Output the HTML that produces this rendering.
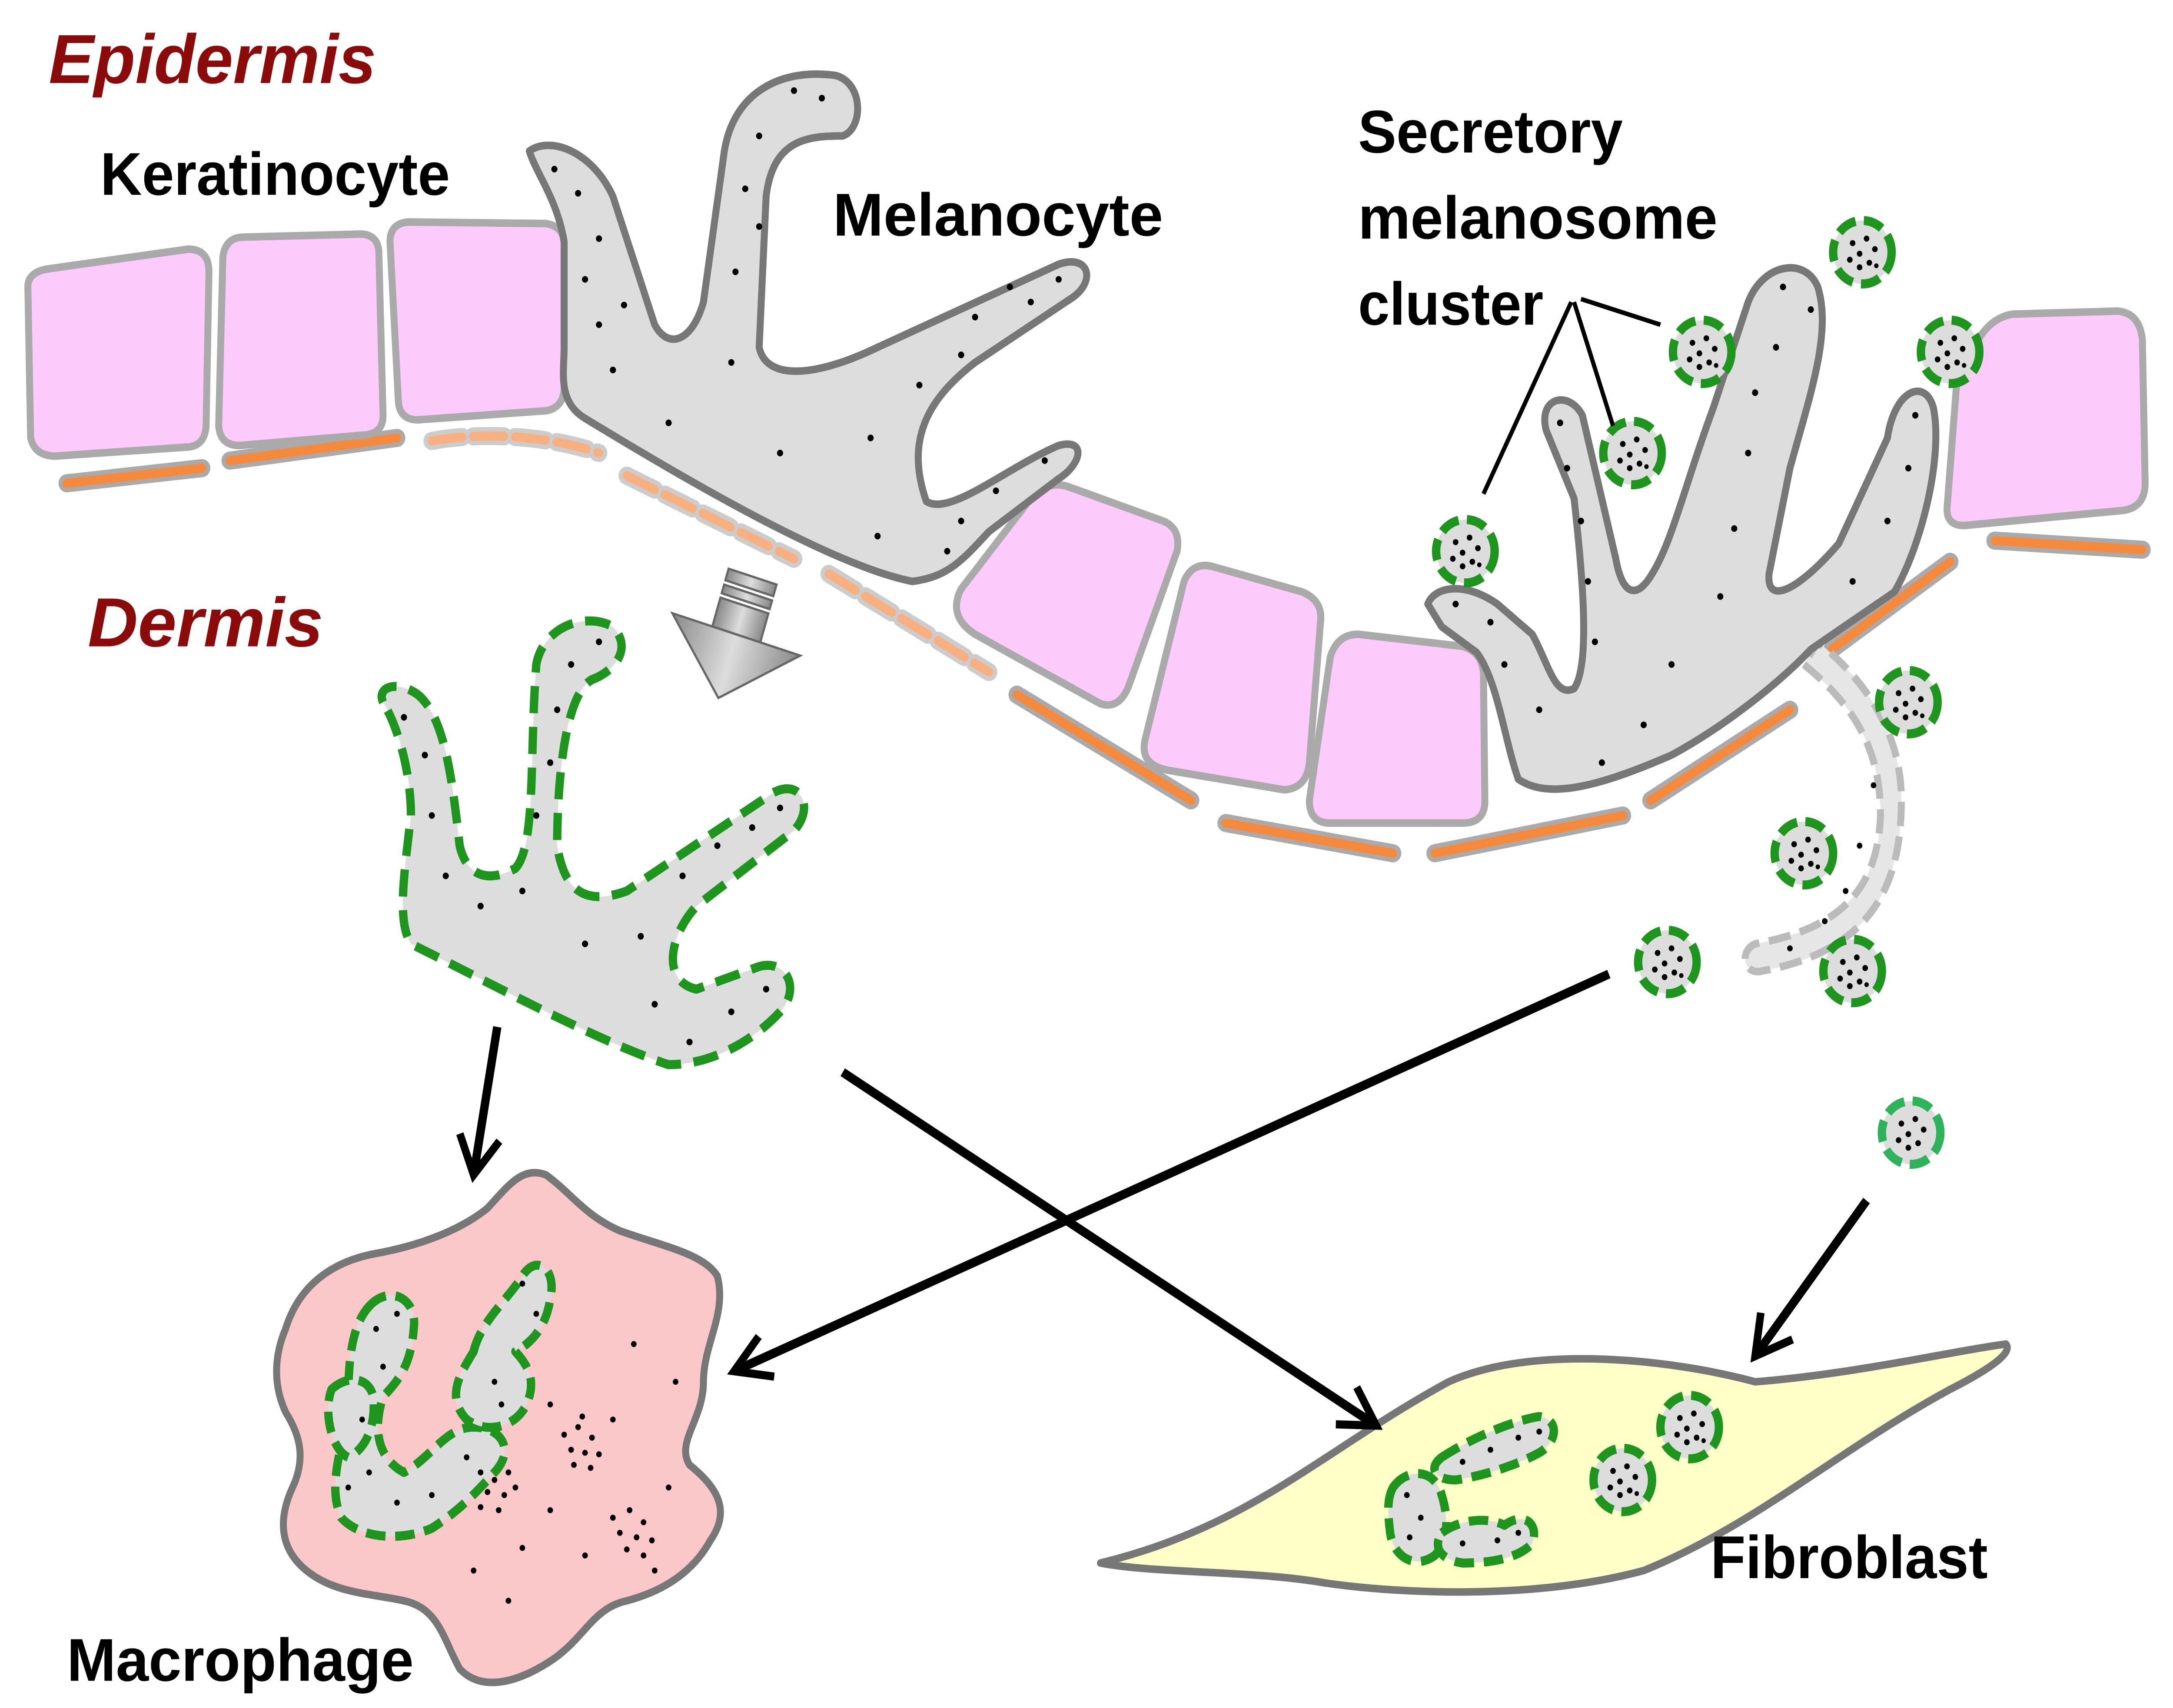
<!DOCTYPE html>
<html><head><meta charset="utf-8"><style>
html,body{margin:0;padding:0;background:#fff;overflow:hidden;width:100%;height:100%;}
svg{display:block;width:100vw;height:100vh;}
text{font-family:"Liberation Sans",sans-serif;font-weight:bold;}
</style></head><body>
<svg viewBox="0 0 1560 1131" preserveAspectRatio="none" xmlns="http://www.w3.org/2000/svg">
<defs>
<marker id="ah" viewBox="0 0 20 20" refX="17" refY="10" markerWidth="6" markerHeight="6" orient="auto" markerUnits="strokeWidth">
<polyline points="3,2 17,10 3,18" fill="none" stroke="#000" stroke-width="3"/>
</marker>
<g id="ms">
<circle r="21" fill="#ddd" stroke="#1e961e" stroke-width="6" stroke-dasharray="14 6"/>
<circle cx="-7" cy="-6" r="2" fill="#000"/><circle cx="3" cy="-9" r="2" fill="#000"/><circle cx="9" cy="-2" r="2" fill="#000"/>
<circle cx="-2" cy="1" r="2" fill="#000"/><circle cx="-9" cy="5" r="2" fill="#000"/><circle cx="5" cy="7" r="2" fill="#000"/>
<circle cx="-2" cy="10" r="2" fill="#000"/><circle cx="10" cy="9" r="1.6" fill="#000"/>
</g>
<linearGradient id="gg" x1="0" x2="1"><stop offset="0" stop-color="#888"/><stop offset="0.5" stop-color="#ddd"/><stop offset="1" stop-color="#888"/></linearGradient>
</defs>

<g stroke-linecap="round" fill="none">
<g stroke="#aaa" stroke-width="12">
<line x1="48" y1="320" x2="145" y2="310"/><line x1="165" y1="305" x2="285" y2="290"/>
<line x1="730" y1="460" x2="855" y2="530"/><line x1="880" y1="545" x2="1000" y2="565"/>
<line x1="1030" y1="565" x2="1165" y2="540"/><line x1="1185" y1="530" x2="1285" y2="470"/>
<line x1="1315" y1="430" x2="1400" y2="372"/><line x1="1432" y1="358" x2="1538" y2="364"/>
</g>
<g stroke="#f58a3c" stroke-width="6">
<line x1="48" y1="320" x2="145" y2="310"/><line x1="165" y1="305" x2="285" y2="290"/>
<line x1="730" y1="460" x2="855" y2="530"/><line x1="880" y1="545" x2="1000" y2="565"/>
<line x1="1030" y1="565" x2="1165" y2="540"/><line x1="1185" y1="530" x2="1285" y2="470"/>
<line x1="1315" y1="430" x2="1400" y2="372"/><line x1="1432" y1="358" x2="1538" y2="364"/>
</g>
<g stroke="#ccc" stroke-width="12" stroke-dasharray="22 8">
<path d="M310,292 C350,285 400,290 430,300"/><line x1="450" y1="315" x2="570" y2="370"/><line x1="595" y1="380" x2="710" y2="445"/>
</g>
<g stroke="#f9b080" stroke-width="6" stroke-dasharray="22 8">
<path d="M310,292 C350,285 400,290 430,300"/><line x1="450" y1="315" x2="570" y2="370"/><line x1="595" y1="380" x2="710" y2="445"/>
</g>
</g>

<g fill="#fccbfc" stroke="#aaa" stroke-width="5" stroke-linejoin="round">
<path d="M20,190 Q20,180 35,178 L135,165 Q150,165 150,180 L148,280 Q148,295 135,296 L40,302 Q25,302 22,290 Z"/>
<path d="M160,170 Q162,157 175,157 L260,155 Q272,156 272,168 L275,275 Q275,287 262,288 L172,295 Q158,295 157,282 Z"/>
<path d="M280,160 Q280,148 293,147 L392,148 Q405,150 405,162 L405,258 Q404,270 392,272 L300,278 Q287,278 286,266 Z"/>
<path d="M690,390 L740,330 Q752,318 766,322 L835,345 Q848,350 845,365 L810,455 Q803,470 790,466 L700,420 Q680,408 690,390 Z"/>
<path d="M850,385 Q856,372 870,375 L935,392 Q950,398 948,412 L940,505 Q938,522 922,523 L838,510 Q818,506 822,490 Z"/>
<path d="M955,435 Q960,420 975,420 L1050,428 Q1065,432 1065,448 L1066,532 Q1065,545 1050,545 L955,545 Q940,545 940,530 Z"/>
<path d="M1420,225 Q1430,210 1445,208 L1520,206 Q1536,207 1538,225 L1540,320 Q1540,336 1524,338 L1410,348 Q1396,348 1398,334 L1405,250 Z"/>
</g>

<path d="M380,100 C395,90 425,100 440,130 L470,215 C480,232 497,226 505,200 L520,100 C527,60 562,45 600,50 C620,55 620,85 605,90 C580,90 555,92 550,130 L545,230 C550,252 585,250 630,230 L760,175 C782,168 787,186 770,197 L700,240 C665,265 650,292 665,332 C682,342 722,310 760,295 C780,290 777,307 760,317 L710,352 C690,372 680,382 655,385 C600,375 500,322 420,277 C400,266 405,246 405,230 L405,160 C400,132 385,115 380,100 Z" fill="#ddd" stroke="#777" stroke-width="5" stroke-linejoin="round"/>
<g fill="#000">
<circle cx="398" cy="112" r="2.2"/><circle cx="415" cy="128" r="2.2"/><circle cx="430" cy="158" r="2.2"/><circle cx="420" cy="185" r="2.2"/><circle cx="448" cy="202" r="2.2"/><circle cx="430" cy="215" r="2.2"/><circle cx="440" cy="245" r="2.2"/>
<circle cx="590" cy="65" r="2.2"/><circle cx="570" cy="60" r="2.2"/><circle cx="545" cy="90" r="2.2"/><circle cx="535" cy="125" r="2.2"/><circle cx="545" cy="150" r="2.2"/><circle cx="528" cy="180" r="2.2"/><circle cx="525" cy="240" r="2.2"/>
<circle cx="760" cy="185" r="2.2"/><circle cx="740" cy="200" r="2.2"/><circle cx="725" cy="190" r="2.2"/><circle cx="700" cy="210" r="2.2"/><circle cx="690" cy="235" r="2.2"/><circle cx="660" cy="255" r="2.2"/>
<circle cx="625" cy="290" r="2.2"/><circle cx="750" cy="305" r="2.2"/><circle cx="715" cy="325" r="2.2"/><circle cx="690" cy="345" r="2.2"/><circle cx="680" cy="365" r="2.2"/><circle cx="630" cy="355" r="2.2"/><circle cx="560" cy="300" r="2.2"/><circle cx="480" cy="280" r="2.2"/>
</g>

<path d="M1295,440 C1335,470 1350,500 1350,540 C1348,590 1320,615 1260,625 C1248,630 1252,646 1265,643 C1340,630 1365,590 1365,530 C1365,490 1345,455 1305,425 Z" fill="#e6e6e6" stroke="#bbb" stroke-width="5" stroke-dasharray="16 7"/>
<g fill="#000"><circle cx="1335" cy="560" r="2"/><circle cx="1325" cy="590" r="2"/><circle cx="1310" cy="610" r="2"/><circle cx="1285" cy="628" r="2"/><circle cx="1345" cy="520" r="2"/></g>

<path d="M1025,400 C1030,388 1052,385 1075,400 L1100,420 C1112,440 1116,462 1130,456 C1142,440 1136,380 1130,330 L1110,285 C1104,263 1126,258 1136,275 L1160,370 C1165,396 1176,396 1186,380 C1200,360 1210,320 1230,270 L1255,200 C1266,174 1296,170 1305,190 C1315,220 1300,260 1285,310 L1270,380 C1268,402 1292,390 1320,360 L1355,290 C1360,258 1382,250 1388,270 C1395,302 1380,360 1360,392 L1300,430 C1280,450 1240,480 1200,500 C1150,520 1112,530 1090,516 C1080,490 1075,450 1060,432 L1035,415 Z" fill="#ddd" stroke="#777" stroke-width="5" stroke-linejoin="round"/>
<g fill="#000">
<circle cx="1045" cy="400" r="2.2"/><circle cx="1070" cy="412" r="2.2"/><circle cx="1080" cy="440" r="2.2"/><circle cx="1105" cy="470" r="2.2"/><circle cx="1120" cy="280" r="2.2"/><circle cx="1125" cy="310" r="2.2"/><circle cx="1135" cy="345" r="2.2"/><circle cx="1140" cy="385" r="2.2"/><circle cx="1145" cy="425" r="2.2"/>
<circle cx="1280" cy="190" r="2.2"/><circle cx="1275" cy="230" r="2.2"/><circle cx="1260" cy="260" r="2.2"/><circle cx="1255" cy="300" r="2.2"/><circle cx="1245" cy="350" r="2.2"/><circle cx="1235" cy="395" r="2.2"/><circle cx="1200" cy="440" r="2.2"/>
<circle cx="1375" cy="275" r="2.2"/><circle cx="1370" cy="310" r="2.2"/><circle cx="1355" cy="345" r="2.2"/><circle cx="1330" cy="385" r="2.2"/><circle cx="1180" cy="480" r="2.2"/><circle cx="1150" cy="505" r="2.2"/><circle cx="1300" cy="205" r="2.2"/>
</g>

<path d="M275,465 C270,455 285,450 300,460 C320,475 325,520 330,560 C335,580 350,585 370,575 C385,560 380,500 385,440 C390,415 420,405 440,415 C455,430 440,445 425,450 C405,460 400,520 400,560 C405,590 420,600 450,590 L555,525 C575,515 585,535 570,550 L500,600 C480,620 475,650 500,655 L545,640 C565,635 575,655 560,670 C540,690 510,705 480,705 C430,690 350,650 295,625 C285,610 290,580 295,540 C295,510 285,480 275,465 Z" fill="#ddd" stroke="#1e961e" stroke-width="6" stroke-dasharray="18 9" stroke-linejoin="round"/>
<g fill="#000">
<circle cx="290" cy="475" r="2.2"/><circle cx="305" cy="500" r="2.2"/><circle cx="310" cy="540" r="2.2"/><circle cx="320" cy="580" r="2.2"/><circle cx="345" cy="600" r="2.2"/><circle cx="430" cy="425" r="2.2"/><circle cx="410" cy="440" r="2.2"/><circle cx="400" cy="470" r="2.2"/><circle cx="395" cy="505" r="2.2"/><circle cx="385" cy="540" r="2.2"/><circle cx="375" cy="590" r="2.2"/>
<circle cx="560" cy="535" r="2.2"/><circle cx="540" cy="548" r="2.2"/><circle cx="515" cy="560" r="2.2"/><circle cx="490" cy="580" r="2.2"/><circle cx="460" cy="620" r="2.2"/><circle cx="420" cy="625" r="2.2"/><circle cx="550" cy="655" r="2.2"/><circle cx="525" cy="670" r="2.2"/><circle cx="495" cy="690" r="2.2"/><circle cx="470" cy="665" r="2.2"/>
</g>

<g transform="translate(528,422) rotate(17)">
<rect x="-18" y="-42" width="36" height="8" fill="url(#gg)" stroke="#666" stroke-width="1.5"/>
<rect x="-18" y="-31" width="36" height="6" fill="url(#gg)" stroke="#666" stroke-width="1.5"/>
<rect x="-18" y="-22" width="36" height="20" fill="url(#gg)" stroke="#666" stroke-width="1.5"/>
<polygon points="-48,-2 48,-2 0,42" fill="url(#gg)" stroke="#666" stroke-width="1.5"/>
</g>

<path d="M205,880 C215,850 240,835 270,830 C300,825 330,815 350,800 C365,785 375,772 392,778 C410,790 420,805 445,815 C475,825 505,830 515,845 C522,870 505,890 505,915 C505,940 485,955 495,970 C515,985 525,1000 510,1020 C495,1045 470,1055 450,1060 C425,1065 420,1085 395,1100 C370,1115 345,1120 330,1105 C318,1085 315,1065 290,1060 C265,1055 240,1055 220,1040 C200,1025 200,1005 210,985 C220,965 215,950 205,935 C195,915 198,895 205,880 Z" fill="#fac8c8" stroke="#777" stroke-width="5" stroke-linejoin="round"/>
<g fill="#ddd" stroke="#1e961e" stroke-width="6" stroke-dasharray="14 7" stroke-linejoin="round">
<path d="M265,865 C280,850 300,860 297,880 C295,905 285,915 275,925 C268,945 270,965 290,975 C310,965 320,945 340,945 C360,945 370,960 355,975 C340,990 330,1000 310,1012 C290,1020 260,1020 245,1005 C235,985 245,960 250,935 C250,910 250,880 265,865 Z"/>
<path d="M340,895 C345,875 365,860 375,845 C385,830 400,840 395,860 C392,880 380,890 370,895 C380,905 385,915 378,930 C370,945 350,950 335,940 C320,925 330,910 340,895 Z"/>
<path d="M238,920 C250,910 265,912 268,925 C270,945 262,960 250,965 C238,960 232,935 238,920 Z"/>
</g>
<g fill="#000">
<circle cx="270" cy="880" r="2"/><circle cx="285" cy="870" r="2"/><circle cx="275" cy="905" r="2"/><circle cx="260" cy="940" r="2"/><circle cx="265" cy="975" r="2"/><circle cx="285" cy="995" r="2"/><circle cx="310" cy="990" r="2"/><circle cx="335" cy="965" r="2"/><circle cx="375" cy="850" r="2"/><circle cx="385" cy="870" r="2"/><circle cx="355" cy="915" r="2"/><circle cx="360" cy="930" r="2"/><circle cx="250" cy="985" r="2"/>
<circle cx="455" cy="890" r="2"/><circle cx="485" cy="915" r="2"/><circle cx="440" cy="940" r="2"/><circle cx="395" cy="930" r="2"/><circle cx="480" cy="985" r="2"/><circle cx="395" cy="1000" r="2"/><circle cx="420" cy="1030" r="2"/><circle cx="470" cy="1040" r="2"/><circle cx="375" cy="1025" r="2"/><circle cx="340" cy="1040" r="2"/><circle cx="365" cy="1060" r="2"/>
<circle cx="405" cy="950" r="2"/><circle cx="415" cy="945" r="2"/><circle cx="425" cy="952" r="2"/><circle cx="410" cy="960" r="2"/><circle cx="420" cy="962" r="2"/><circle cx="430" cy="963" r="2"/><circle cx="412" cy="970" r="2"/><circle cx="424" cy="972" r="2"/><circle cx="418" cy="938" r="2"/>
<circle cx="345" cy="975" r="2"/><circle cx="355" cy="980" r="2"/><circle cx="365" cy="975" r="2"/><circle cx="350" cy="988" r="2"/><circle cx="362" cy="990" r="2"/><circle cx="345" cy="998" r="2"/><circle cx="358" cy="1000" r="2"/><circle cx="370" cy="985" r="2"/>
<circle cx="440" cy="1005" r="2"/><circle cx="452" cy="1000" r="2"/><circle cx="462" cy="1008" r="2"/><circle cx="445" cy="1015" r="2"/><circle cx="457" cy="1018" r="2"/><circle cx="468" cy="1020" r="2"/><circle cx="450" cy="1026" r="2"/><circle cx="462" cy="1030" r="2"/>
</g>

<path d="M790,1035 C900,1010 950,960 1040,915 C1100,890 1200,900 1260,915 C1330,910 1400,895 1440,890 C1445,895 1432,905 1400,920 C1320,960 1260,1010 1180,1040 C1100,1060 1000,1055 950,1048 C900,1040 830,1042 790,1035 Z" fill="#ffffc8" stroke="#777" stroke-width="5" stroke-linejoin="round"/>
<g fill="#ddd" stroke="#1e961e" stroke-width="6" stroke-dasharray="14 7" stroke-linejoin="round">
<path d="M1035,965 C1060,950 1090,940 1105,938 C1120,940 1118,955 1105,962 C1085,972 1060,978 1045,980 C1030,980 1025,972 1035,965 Z"/>
<path d="M1000,985 C1010,972 1030,972 1035,990 C1040,1005 1040,1020 1030,1030 C1015,1040 1000,1030 998,1015 C996,1000 996,992 1000,985 Z"/>
<path d="M1035,1015 C1050,1005 1070,1005 1080,1010 C1095,1000 1105,1010 1100,1022 C1090,1032 1070,1035 1050,1035 C1035,1033 1028,1025 1035,1015 Z"/>
</g>
<g fill="#000">
<circle cx="1050" cy="968" r="2"/><circle cx="1070" cy="960" r="2"/><circle cx="1090" cy="952" r="2"/><circle cx="1105" cy="948" r="2"/><circle cx="1010" cy="990" r="2"/><circle cx="1020" cy="1005" r="2"/><circle cx="1012" cy="1018" r="2"/><circle cx="1050" cy="1022" r="2"/><circle cx="1075" cy="1020" r="2"/><circle cx="1090" cy="1015" r="2"/>
</g>
<use href="#ms" x="1213" y="945"/><use href="#ms" x="1165" y="980"/>

<use href="#ms" x="1337" y="167"/><use href="#ms" x="1222" y="233"/><use href="#ms" x="1400" y="233"/>
<use href="#ms" x="1172" y="300"/><use href="#ms" x="1052" y="365"/><use href="#ms" x="1370" y="465"/>
<use href="#ms" x="1295" y="565"/><use href="#ms" x="1197" y="637"/><use href="#ms" x="1330" y="643"/>
<g transform="translate(1372,750)">
<circle r="21" fill="#ddd" stroke="#2db35a" stroke-width="6" stroke-dasharray="14 6"/>
<circle cx="-7" cy="-6" r="2"/><circle cx="3" cy="-9" r="2"/><circle cx="9" cy="-2" r="2"/><circle cx="-2" cy="1" r="2"/><circle cx="-9" cy="5" r="2"/><circle cx="5" cy="7" r="2"/><circle cx="-2" cy="10" r="2"/>
</g>

<g stroke="#000" stroke-width="3">
<line x1="1128" y1="200" x2="1065" y2="327"/><line x1="1130" y1="200" x2="1158" y2="282"/><line x1="1135" y1="198" x2="1192" y2="215"/>
</g>

<g stroke="#000" stroke-width="6" fill="none" marker-end="url(#ah)">
<line x1="357" y1="680" x2="340" y2="778"/>
<line x1="605" y1="710" x2="988" y2="944"/>
<line x1="1155" y1="645" x2="527" y2="908"/>
<line x1="1340" y1="795" x2="1260" y2="898"/>
</g>

<g font-size="40">
<text x="35" y="55" fill="#8b0a0a" font-style="italic" font-size="46" textLength="235" lengthAdjust="spacingAndGlyphs">Epidermis</text>
<text x="63" y="428" fill="#8b0a0a" font-style="italic" font-size="46" textLength="169" lengthAdjust="spacingAndGlyphs">Dermis</text>
<text x="72" y="129" textLength="251" lengthAdjust="spacingAndGlyphs">Keratinocyte</text>
<text x="598" y="156" textLength="237" lengthAdjust="spacingAndGlyphs">Melanocyte</text>
<text x="975" y="101" textLength="190" lengthAdjust="spacingAndGlyphs">Secretory</text>
<text x="975" y="158" textLength="258" lengthAdjust="spacingAndGlyphs">melanosome</text>
<text x="975" y="215" textLength="133" lengthAdjust="spacingAndGlyphs">cluster</text>
<text x="48" y="1113" textLength="249" lengthAdjust="spacingAndGlyphs">Macrophage</text>
<text x="1228" y="1045" textLength="199" lengthAdjust="spacingAndGlyphs">Fibroblast</text>
</g>
</svg>
</body></html>
